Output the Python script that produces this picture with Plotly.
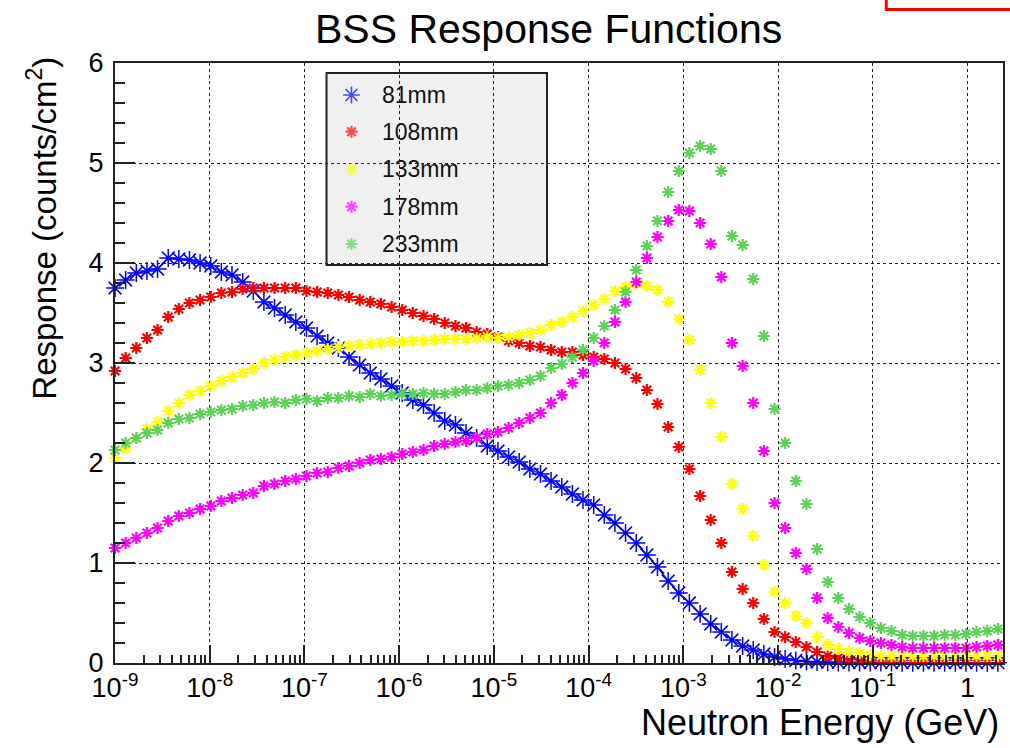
import plotly.graph_objects as go

# Neutron energy grid (log10 of energy in GeV)
log_energy = [
    -9.000, -8.888, -8.775, -8.663, -8.551, -8.438, -8.326, -8.214, -8.102, -7.989,
    -7.877, -7.765, -7.652, -7.540, -7.428, -7.316, -7.203, -7.091, -6.979, -6.866,
    -6.754, -6.642, -6.529, -6.417, -6.305, -6.193, -6.080, -5.968, -5.856, -5.743,
    -5.631, -5.519, -5.406, -5.294, -5.182, -5.070, -4.957, -4.845, -4.733, -4.620,
    -4.508, -4.396, -4.283, -4.171, -4.059, -3.946, -3.834, -3.722, -3.610, -3.497,
    -3.385, -3.273, -3.160, -3.048, -2.936, -2.823, -2.711, -2.599, -2.487, -2.374,
    -2.262, -2.150, -2.037, -1.925, -1.813, -1.700, -1.588, -1.476, -1.364, -1.251,
    -1.139, -1.027, -0.914, -0.802, -0.690, -0.578, -0.465, -0.353, -0.241, -0.128,
    -0.016, 0.096, 0.209, 0.321,
]
energy = [10 ** v for v in log_energy]

# Sphere responses (counts/cm^2)
resp_81mm = [
    3.75, 3.83, 3.90, 3.92, 3.94, 4.05, 4.04, 4.03, 4.00, 3.97,
    3.91, 3.88, 3.81, 3.72, 3.61, 3.55, 3.48, 3.41, 3.35, 3.27,
    3.20, 3.15, 3.06, 2.98, 2.90, 2.84, 2.77, 2.70, 2.63, 2.58,
    2.50, 2.42, 2.38, 2.30, 2.25, 2.17, 2.12, 2.06, 2.01, 1.94,
    1.89, 1.82, 1.76, 1.69, 1.63, 1.58, 1.48, 1.40, 1.30, 1.20,
    1.08, 0.96, 0.82, 0.70, 0.60, 0.49, 0.39, 0.31, 0.23, 0.17,
    0.13, 0.09, 0.06, 0.04, 0.025, 0.015, 0.010, 0.008, 0.006, 0.005,
    0.005, 0.004, 0.004, 0.004, 0.003, 0.003, 0.003, 0.003, 0.003, 0.003,
    0.003, 0.003, 0.003, 0.003,
]
resp_108mm = [
    2.92, 3.05, 3.15, 3.25, 3.33, 3.46, 3.54, 3.60, 3.63, 3.66,
    3.70, 3.71, 3.74, 3.75, 3.75, 3.75, 3.75, 3.75, 3.72, 3.71,
    3.70, 3.68, 3.66, 3.63, 3.61, 3.59, 3.56, 3.53, 3.50, 3.47,
    3.44, 3.40, 3.37, 3.35, 3.31, 3.29, 3.26, 3.22, 3.20, 3.17,
    3.16, 3.13, 3.11, 3.11, 3.08, 3.06, 3.04, 3.00, 2.94, 2.85,
    2.73, 2.59, 2.36, 2.16, 1.94, 1.67, 1.43, 1.20, 0.91, 0.74,
    0.60, 0.44, 0.31, 0.26, 0.21, 0.16, 0.11, 0.07, 0.05, 0.04,
    0.035, 0.03, 0.03, 0.03, 0.03, 0.03, 0.03, 0.03, 0.03, 0.03,
    0.03, 0.03, 0.03, 0.03,
]
resp_133mm = [
    2.05, 2.15, 2.25, 2.34, 2.41, 2.52, 2.60, 2.68, 2.72, 2.77,
    2.82, 2.86, 2.90, 2.94, 3.00, 3.03, 3.06, 3.08, 3.10, 3.12,
    3.14, 3.16, 3.17, 3.18, 3.19, 3.20, 3.21, 3.21, 3.22, 3.22,
    3.23, 3.24, 3.24, 3.24, 3.25, 3.26, 3.25, 3.26, 3.28, 3.30,
    3.33, 3.38, 3.41, 3.46, 3.52, 3.58, 3.64, 3.72, 3.76, 3.79,
    3.77, 3.73, 3.61, 3.44, 3.23, 2.93, 2.60, 2.26, 1.79, 1.54,
    1.27, 0.98, 0.71, 0.60, 0.47, 0.40, 0.26, 0.18, 0.14, 0.11,
    0.10, 0.08, 0.07, 0.07, 0.07, 0.07, 0.07, 0.07, 0.07, 0.07,
    0.07, 0.07, 0.07, 0.07,
]
resp_178mm = [
    1.15, 1.20, 1.25, 1.30, 1.35, 1.42, 1.47, 1.50, 1.54, 1.57,
    1.62, 1.65, 1.68, 1.70, 1.77, 1.79, 1.82, 1.84, 1.87, 1.90,
    1.91, 1.95, 1.97, 2.00, 2.03, 2.04, 2.06, 2.09, 2.11, 2.13,
    2.17, 2.19, 2.21, 2.22, 2.25, 2.29, 2.31, 2.35, 2.40, 2.45,
    2.50, 2.60, 2.68, 2.80, 2.90, 3.02, 3.20, 3.41, 3.61, 3.81,
    4.05, 4.26, 4.42, 4.53, 4.52, 4.40, 4.19, 3.86, 3.20, 2.97,
    2.60, 2.12, 1.60, 1.35, 1.10, 0.94, 0.65, 0.45, 0.36, 0.30,
    0.25, 0.22, 0.20, 0.18, 0.16, 0.15, 0.15, 0.15, 0.15, 0.15,
    0.15, 0.16, 0.17, 0.18,
]
resp_233mm = [
    2.13, 2.20, 2.25, 2.30, 2.33, 2.40, 2.44, 2.45, 2.49, 2.51,
    2.53, 2.54, 2.57, 2.58, 2.60, 2.61, 2.60, 2.63, 2.64, 2.62,
    2.65, 2.65, 2.67, 2.66, 2.69, 2.67, 2.68, 2.69, 2.69, 2.70,
    2.69, 2.69, 2.71, 2.73, 2.73, 2.75, 2.77, 2.78, 2.80, 2.83,
    2.87, 2.95, 2.99, 3.06, 3.13, 3.25, 3.37, 3.53, 3.71, 3.93,
    4.17, 4.42, 4.71, 4.92, 5.10, 5.17, 5.14, 4.92, 4.27, 4.18,
    3.84, 3.27, 2.54, 2.20, 1.82, 1.59, 1.14, 0.81, 0.65, 0.54,
    0.46, 0.40, 0.35, 0.32, 0.28, 0.27, 0.27, 0.27, 0.28, 0.28,
    0.29, 0.31, 0.32, 0.34,
]

labels = ["81mm", "108mm", "133mm", "178mm", "233mm"]
responses = [resp_81mm, resp_108mm, resp_133mm, resp_178mm, resp_233mm]
colors = ["#0000ff", "#ff0000", "#ffff00", "#ff00ff", "#59d454"]

x_tick_vals = [1e-9, 1e-8, 1e-7, 1e-6, 1e-5, 1e-4, 1e-3, 1e-2, 1e-1, 1]
x_tick_text = ["10<sup>-9</sup>", "10<sup>-8</sup>", "10<sup>-7</sup>", "10<sup>-6</sup>",
               "10<sup>-5</sup>", "10<sup>-4</sup>", "10<sup>-3</sup>", "10<sup>-2</sup>",
               "10<sup>-1</sup>", "1"]

FONT = "Liberation Sans, Arial, Helvetica, sans-serif"
W, H = 1010, 748
L, R, T, B = 115, 1005, 63, 663   # plot box in pixels


def px(x):
    return (x - L) / (R - L)


def py(y):
    return (B - y) / (B - T)


fig = go.Figure()

for i, (name, vals, col) in enumerate(zip(labels, responses, colors)):
    first = i == 0
    fig.add_trace(go.Scatter(
        x=energy, y=vals, name=name,
        mode="lines+markers" if first else "markers",
        line=dict(color=col, width=1.3),
        marker=dict(symbol="asterisk-open", size=15 if first else 10, color=col,
                    line=dict(color=col, width=1.5 if first else 2.2)),
        cliponaxis=False, showlegend=False,
    ))

# legend box contents
legend_rows = [95, 131.7, 169.3, 206.7, 244]
fig.add_trace(go.Scatter(
    x=[px(352)] * len(labels), y=[py(v) for v in legend_rows],
    xaxis="x2", yaxis="y2", mode="markers", showlegend=False, hoverinfo="skip",
    marker=dict(symbol="asterisk-open", size=[14, 10, 10, 10, 10], color=colors,
                line=dict(color=colors, width=[1.6, 2.2, 2.2, 2.2, 2.2])),
))

annotations = []
for name, yy in zip(labels, legend_rows):
    annotations.append(dict(x=px(381), y=py(yy), xref="paper", yref="paper",
                            text=name, showarrow=False, xanchor="left", yanchor="middle",
                            font=dict(family=FONT, size=23, color="#111111")))

annotations.append(dict(x=px(549), y=py(29), xref="paper", yref="paper",
                        text="BSS Response Functions", showarrow=False,
                        xanchor="center", yanchor="middle",
                        font=dict(family=FONT, size=41, color="black")))
annotations.append(dict(x=px(1003), y=py(722), xref="paper", yref="paper",
                        text="Neutron Energy (GeV)", showarrow=False,
                        xanchor="right", yanchor="middle",
                        font=dict(family=FONT, size=36, color="black")))
annotations.append(dict(x=px(42), y=py(55), xref="paper", yref="paper",
                        text="Response (counts/cm<sup>2</sup>)", showarrow=False,
                        textangle=-90, xanchor="center", yanchor="top",
                        font=dict(family=FONT, size=33, color="black")))

shapes = [
    # legend frame
    dict(type="rect", xref="paper", yref="paper", layer="between",
         x0=px(327), x1=px(548), y0=py(265), y1=py(73),
         fillcolor="#f0f0f0", line=dict(color="#222222", width=2)),
    # red marker frame in the corner
    dict(type="rect", xref="paper", yref="paper", layer="above",
         x0=px(888), x1=px(1020), y0=py(9.5), y1=py(-20),
         fillcolor="rgba(0,0,0,0)", line=dict(color="#ff0000", width=3)),
]

axis_common = dict(
    showline=True, linecolor="#222222", linewidth=2, mirror=True,
    ticks="inside", tickcolor="#222222", tickwidth=1.5,
    showgrid=True, gridcolor="#222222", gridwidth=1, griddash="dot",
    zeroline=False,
    tickfont=dict(family=FONT, size=27, color="black"),
)

fig.update_layout(
    width=W, height=H,
    margin=dict(l=L, r=W - R, t=T, b=H - B),
    paper_bgcolor="white", plot_bgcolor="white",
    showlegend=False,
    xaxis=dict(type="log", range=[-9, 0.375], tickvals=x_tick_vals, ticktext=x_tick_text,
               ticklen=18,
               minor=dict(ticks="inside", ticklen=8, dtick="D1", tickcolor="#222222",
                          tickwidth=1.5, showgrid=False),
               **axis_common),
    yaxis=dict(range=[0, 6], dtick=1, ticklen=20,
               minor=dict(ticks="inside", ticklen=10, dtick=0.2, tickcolor="#222222",
                          tickwidth=1.5, showgrid=False),
               ticklabelstandoff=4,
               **axis_common),
    xaxis2=dict(overlaying="x", range=[0, 1], visible=False, anchor="y2"),
    yaxis2=dict(overlaying="y", range=[0, 1], visible=False, anchor="x2"),
    annotations=annotations,
    shapes=shapes,
)

fig.write_html("out.html")
